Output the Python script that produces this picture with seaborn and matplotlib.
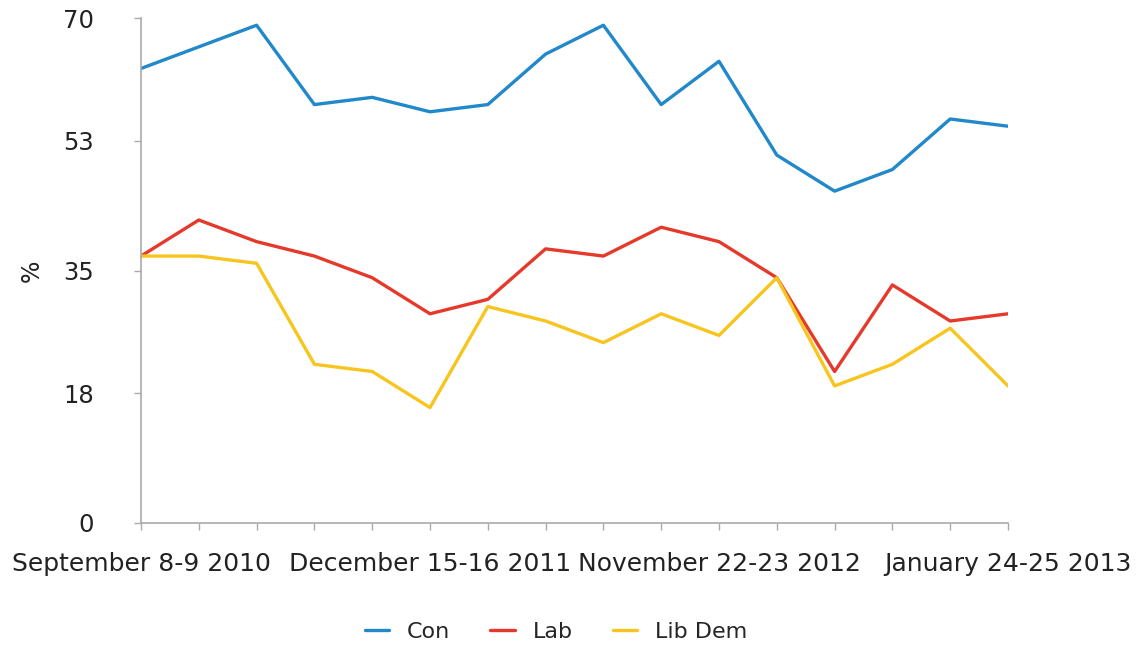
import matplotlib
matplotlib.use("Agg")
import matplotlib.pyplot as plt
import seaborn as sns
import pandas as pd
import numpy as np

# ---- data ----
poll_index = list(range(16))
tick_labels = ["September 8-9 2010", "", "", "", "", "December 15-16 2011", "", "", "", "",
               "November 22-23 2012", "", "", "", "", "January 24-25 2013"]
con = [63, 66, 69, 58, 59, 57, 58, 65, 69, 58, 64, 51, 46, 49, 56, 55]
lab = [37, 42, 39, 37, 34, 29, 31, 38, 37, 41, 39, 34, 21, 33, 28, 29]
libdem = [37, 37, 36, 22, 21, 16, 30, 28, 25, 29, 26, 34, 19, 22, 27, 19]
y_ticks = [0, 18, 35, 53, 70]
series_names = ["Con", "Lab", "Lib Dem"]
colors = ["#2188C9", "#E5392B", "#F7C51E"]

df = pd.DataFrame({
    "x": poll_index * 3,
    "value": con + lab + libdem,
    "party": sum([[n] * 16 for n in series_names], []),
})

sns.set_style("white")
plt.rcParams["font.family"] = ["DejaVu Sans"]

fig = plt.figure(figsize=(11.41, 6.46), dpi=100)
ax = fig.add_axes([141 / 1141, 1 - 523 / 646, (1008 - 141) / 1141, (523 - 18) / 646])

sns.lineplot(data=df, x="x", y="value", hue="party", palette=colors,
             hue_order=series_names, linewidth=2.4, ax=ax, legend=True)

ax.set_xlim(0, 15)
ax.set_ylim(0, 70)
ax.set_xticks(poll_index)
ax.set_xticklabels(tick_labels)
ax.set_yticks(y_ticks)
ax.set_xlabel("")
ax.set_ylabel("%", fontsize=17, color="#222222")
ax.yaxis.set_label_coords(-0.112, 0.5)

for s in ["top", "right"]:
    ax.spines[s].set_visible(False)
for s in ["left", "bottom"]:
    ax.spines[s].set_color("#AAAAAA")
    ax.spines[s].set_linewidth(1.2)

ax.tick_params(axis="x", length=5, width=1, color="#AAAAAA", pad=16,
               labelsize=18, labelcolor="#222222", direction="out", bottom=True)
ax.tick_params(axis="y", length=5, width=1, color="#AAAAAA", pad=29,
               labelsize=17.5, labelcolor="#222222", direction="out", left=True)

handles, labels = ax.get_legend_handles_labels()
ax.legend_.remove()
fig.legend(handles, labels, loc="center", bbox_to_anchor=(556 / 1141, 1 - 632 / 646),
           ncol=3, frameon=False, fontsize=16, handlelength=1.1,
           columnspacing=1.8, handletextpad=0.8)

fig.savefig("out.png", dpi=100)
